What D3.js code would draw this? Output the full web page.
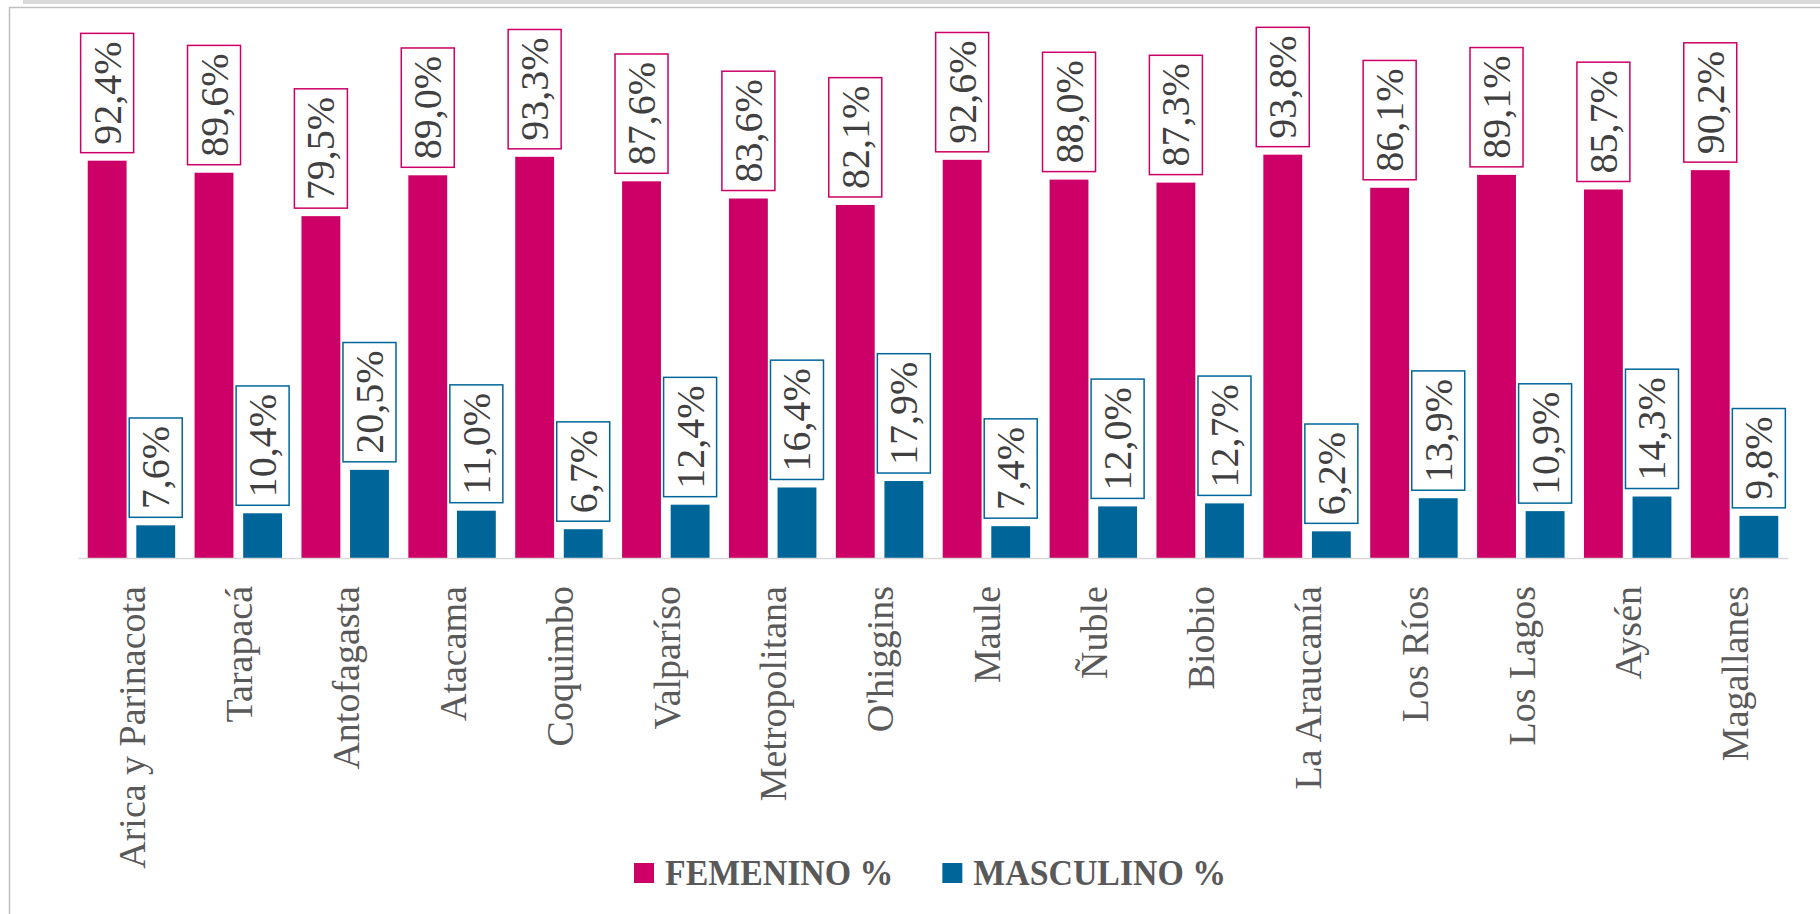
<!DOCTYPE html>
<html>
<head>
<meta charset="utf-8">
<script src="https://cdnjs.cloudflare.com/ajax/libs/d3/7.8.5/d3.min.js"></script>
<style>
  body { margin: 0; background: #fff; }
</style>
</head>
<body>
<script>
var regiones = ["Arica y Parinacota", "Tarapacá", "Antofagasta", "Atacama", "Coquimbo", "Valparíso",
  "Metropolitana", "O'higgins", "Maule", "Ñuble", "Biobio", "La Araucanía", "Los Ríos", "Los Lagos",
  "Aysén", "Magallanes"];
var femenino = [92.4, 89.6, 79.5, 89.0, 93.3, 87.6, 83.6, 82.1, 92.6, 88.0, 87.3, 93.8, 86.1, 89.1, 85.7, 90.2];
var masculino = [7.6, 10.4, 20.5, 11.0, 6.7, 12.4, 16.4, 17.9, 7.4, 12.0, 12.7, 6.2, 13.9, 10.9, 14.3, 9.8];
var series = ["FEMENINO %", "MASCULINO %"];
var colores = ["#cc0066", "#006699"];

var width = 1820, height = 914;
var fuente = "'Liberation Serif', 'Times New Roman', serif";

let svg = d3.select("body")
  .append("svg")
  .attr("width", width)
  .attr("height", height);

//chart frame
svg.append("rect")
  .attr("x", 23).attr("y", 0)
  .attr("width", width - 23).attr("height", 4)
  .attr("fill", "#d9d9d9");

svg.append("path")
  .attr("d", "M9.5," + height + "V7.5H" + width)
  .attr("fill", "none")
  .attr("stroke", "#bfbfbf")
  .attr("stroke-width", 1.5);

var x0 = d3.scaleBand().domain(regiones).range([78, 1788]);
var x1 = d3.scaleBand().domain(series).range([0, x0.bandwidth()]).padding(0.2);
var y = d3.scaleLinear().domain([0, 100]).range([558, 128]);
var color = d3.scaleOrdinal().domain(series).range(colores);

var barras = [];
regiones.forEach(function (r, i) {
  barras.push({ region: r, serie: series[0], valor: femenino[i] });
  barras.push({ region: r, serie: series[1], valor: masculino[i] });
});

var g = svg.append("g");

//bars
g.selectAll(".bar")
  .data(barras)
  .enter().append("rect")
  .attr("class", "bar")
  .attr("x", function (d) { return x0(d.region) + x1(d.serie); })
  .attr("y", function (d) { return y(d.valor); })
  .attr("width", x1.bandwidth())
  .attr("height", function (d) { return y(0) - y(d.valor); })
  .attr("fill", function (d) { return color(d.serie); });

//x axis
var eje = g.append("g")
  .attr("transform", "translate(0," + y(0) + ")")
  .call(d3.axisBottom(x0).tickSize(0).tickPadding(0));

eje.select(".domain")
  .attr("stroke", "#d9d9d9")
  .attr("stroke-width", 1.5);

eje.selectAll("text")
  .attr("x", 0)
  .attr("y", 0)
  .attr("dy", "0.36em")
  .attr("text-anchor", "end")
  .attr("transform", "translate(0,28) rotate(-90)")
  .style("font-family", fuente)
  .style("font-size", "38px")
  .attr("fill", "#595959");

//data labels in boxes
g.selectAll(".etiqueta")
  .data(barras)
  .enter().append("g")
  .attr("class", "etiqueta")
  .each(function (d) {
    var el = d3.select(this);
    var cx = x0(d.region) + x1(d.serie) + x1.bandwidth() / 2;
    var tope = y(d.valor);
    var caja = el.append("rect");
    var t = el.append("text")
      .text(d.valor.toFixed(1).replace(".", ",") + "%")
      .attr("text-anchor", "middle")
      .attr("dominant-baseline", "central")
      .style("font-family", fuente)
      .style("font-size", "40px")
      .attr("fill", "#404040");
    var largo = t.node().getComputedTextLength() + 16;
    caja.attr("x", cx - 26.5)
      .attr("y", tope - 8 - largo)
      .attr("width", 53)
      .attr("height", largo)
      .attr("fill", "#fff")
      .attr("stroke", color(d.serie))
      .attr("stroke-width", 1.5);
    t.attr("transform", "translate(" + cx + "," + (tope - 8 - largo / 2) + ") rotate(-90)");
  });

//legend
var lx = 634;
series.forEach(function (s) {
  svg.append("rect")
    .attr("x", lx).attr("y", 863)
    .attr("width", 20).attr("height", 20)
    .attr("fill", color(s));
  var t = svg.append("text")
    .attr("transform", "translate(" + (lx + 31) + ",885) scale(0.94,1)")
    .style("font-family", fuente)
    .style("font-size", "36px")
    .style("font-weight", "bold")
    .attr("fill", "#595959")
    .text(s);
  lx = lx + 31 + t.node().getComputedTextLength() * 0.94 + 49;
});
</script>
</body>
</html>
